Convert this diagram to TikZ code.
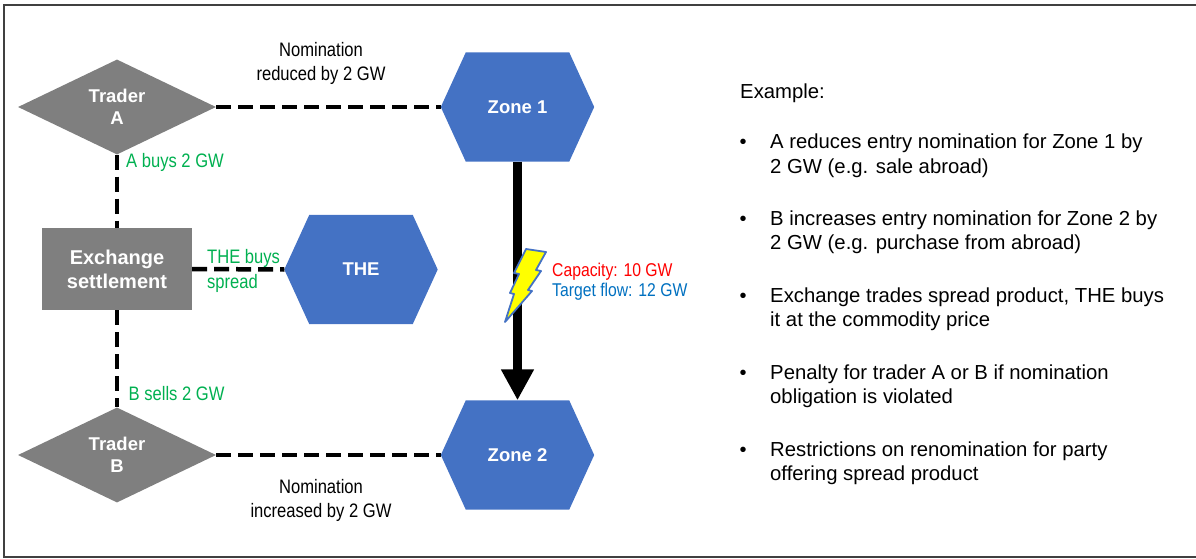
\documentclass[tikz,border=0pt]{standalone}
\usepackage{fontspec}
\setmainfont{Liberation Sans}
\newfontfamily\narrowfont[FakeStretch=0.85]{Liberation Sans}
\usetikzlibrary{arrows.meta,shapes.geometric,backgrounds,calc}
\definecolor{hexblue}{HTML}{4472C4}
\definecolor{boxgray}{HTML}{7F7F7F}
\definecolor{lblgreen}{HTML}{00B050}
\definecolor{capred}{HTML}{FF0000}
\definecolor{flowblue}{HTML}{0070C0}
\definecolor{framegray}{HTML}{404040}
\definecolor{boltyellow}{HTML}{FFFF00}
\newcommand{\hexfill}[1]{\fill[hexblue] (#1.west) -- ([xshift=25pt]#1.north west) -- ([xshift=-25pt]#1.north east) -- (#1.east) -- ([xshift=-25pt]#1.south east) -- ([xshift=25pt]#1.south west) -- cycle;}
\begin{document}
\begin{tikzpicture}[x=1pt,y=-1pt,
 hexnode/.style={rectangle, minimum width=153pt, minimum height=109pt, inner sep=0pt, text=white, font=\fontsize{18.5}{21}\selectfont\bfseries},
 tradernode/.style={diamond, fill=boxgray, aspect=2.08, minimum width=198pt, minimum height=95pt, inner sep=0pt, text=white, align=center, font=\fontsize{18.5}{21.5}\selectfont\bfseries},
 settlebox/.style={rectangle, fill=boxgray, minimum width=150pt, minimum height=82pt, inner sep=0pt, text=white, align=center, font=\fontsize{20}{24}\selectfont\bfseries},
 dashline/.style={line width=4.5pt, dash pattern=on 15pt off 7pt},
 flowarrow/.style={line width=9pt, -{Triangle[width=31pt,length=31pt]}},
 greenlbl/.style={text=lblgreen, font=\narrowfont\fontsize{19.5}{25}\selectfont, inner sep=0pt, anchor=west, align=left},
 blacklbl/.style={text=black, font=\narrowfont\fontsize{19.5}{24}\selectfont, inner sep=0pt, align=center},
 flowlbl/.style={font=\narrowfont\fontsize{18.5}{20}\selectfont, inner sep=0pt, anchor=west},
 bodytext/.style={font=\fontsize{20.3}{24}\selectfont, inner sep=0pt, anchor=base west},
 bulletmark/.style={font=\fontsize{20}{24}\selectfont, inner sep=0pt, anchor=base}
]
\useasboundingbox (0,0) rectangle (1196,559);
\draw[framegray, line width=2pt] (1200,5) -- (4,5) -- (4,557) -- (1200,557);

% nodes
\node[tradernode] (TA) at (117,107) {Trader\\A};
\node[tradernode] (TB) at (117,455) {Trader\\B};
\node[settlebox] (EX) at (117,269) {Exchange\\settlement};
\node[hexnode] (Z1) at (517.5,107) {Zone 1};
\node[hexnode] (THE) at (361,269.5) {THE};
\node[hexnode] (Z2) at (517.5,455) {Zone 2};
\begin{pgfonlayer}{background}
\hexfill{Z1}
\hexfill{THE}
\hexfill{Z2}
\end{pgfonlayer}

% connectors
\draw[dashline] (TA.east) -- (Z1.west);
\draw[dashline] (TA.south) -- (EX.north);
\draw[dashline] (EX.south) -- (TB.north);
\draw[dashline] (EX.east) -- (THE.west);
\draw[dashline] (TB.east) -- (Z2.west);
\draw[flowarrow] (Z1.south) -- (Z2.north);

% lightning
\draw[hexblue, line width=1.8pt, fill=boltyellow, line join=round]
 (526,249) -- (546,252) -- (536,270) -- (541,271) -- (528,290) -- (532,291)
 -- (505,322) -- (514,294) -- (510,293) -- (519,274) -- (514,273) -- cycle;

% labels
\node[blacklbl] (n1) at (321,63) {Nomination\\reduced by 2 GW};
\node[blacklbl] (n2) at (321,500.5) {Nomination\\increased by 2 GW};
\node[greenlbl] (g1) at (126,162) {A buys 2 GW};
\node[greenlbl] (g2) at (207,270.5) {THE buys\\spread};
\node[greenlbl] (g3) at (128.5,394) {B sells 2 GW};
\node[flowlbl, text=capred] (cap) at (552,272) {Capacity: 10 GW};
\node[flowlbl, text=flowblue] (tf) at (552,292) {Target flow: 12 GW};

% right text
\node[bodytext] (ex) at (740,99) {Example:};
\foreach \y/\la/\lb in {149/A reduces entry nomination for Zone 1 by/2 GW (e.g. sale abroad),
 225/B increases entry nomination for Zone 2 by/2 GW (e.g. purchase from abroad),
 302/{Exchange trades spread product, THE buys}/it at the commodity price,
 379/Penalty for trader A or B if nomination/obligation is violated,
 456/Restrictions on renomination for party/offering spread product}{
 \node[bulletmark] at (743,\y) {•};
 \node[bodytext] at (770,\y) {\la};
 \node[bodytext] at (770,\y+24.5) {\lb};
}
\end{tikzpicture}
\end{document}
